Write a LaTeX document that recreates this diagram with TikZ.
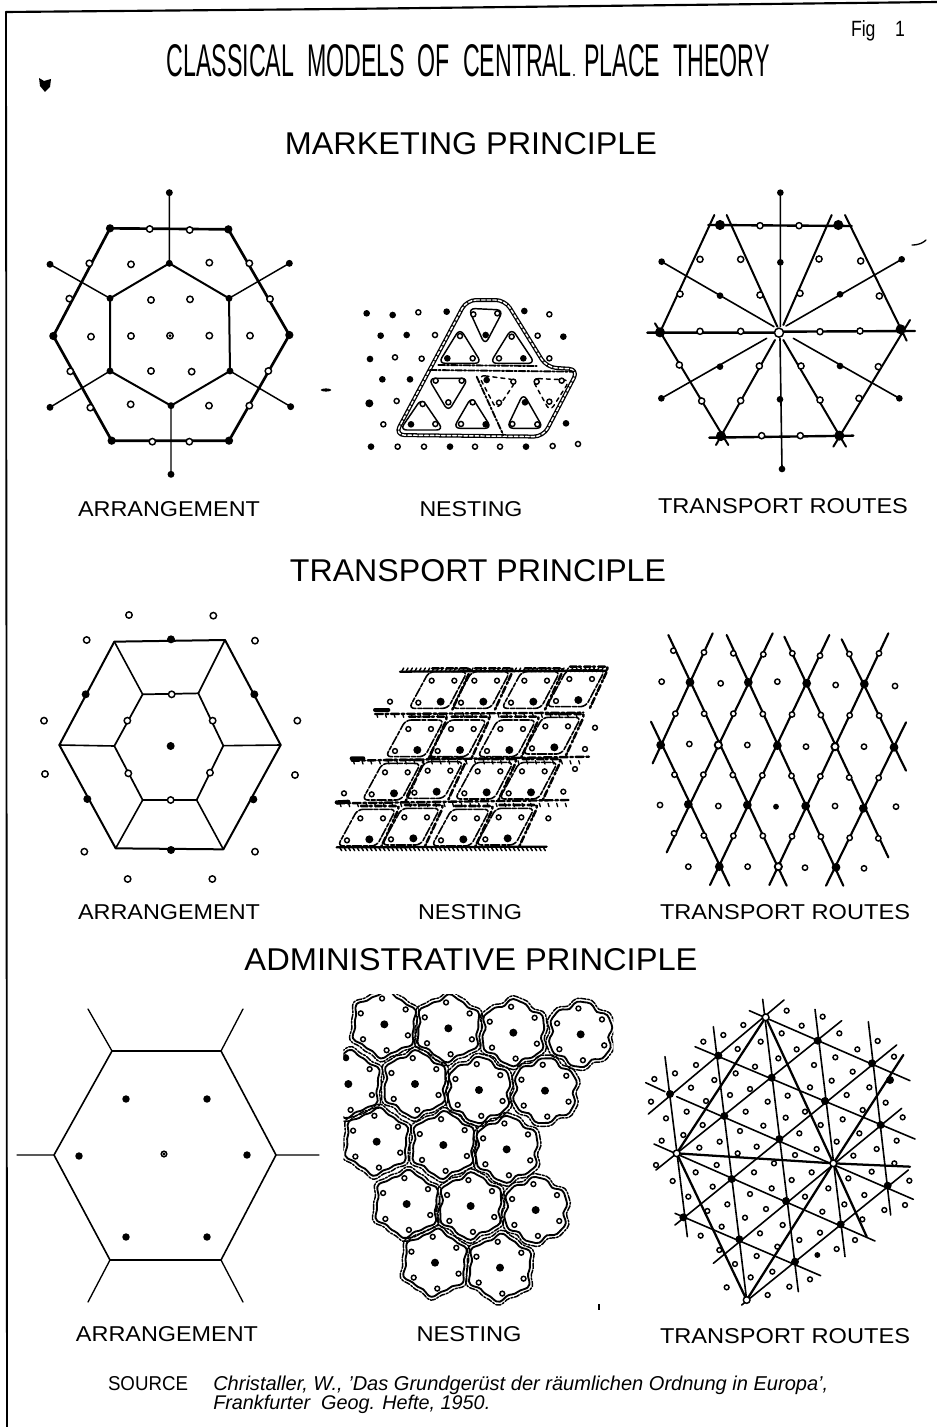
\documentclass[tikz,border=0pt]{standalone}
\usepackage{fontspec}
\usepackage{graphicx}
\setmainfont{Liberation Sans}
\usetikzlibrary{calc}
\newlength\pxu \setlength\pxu{0.75pt}
\newcommand\bdots[2][2.6pt]{\foreach \x/\y in {#2}{\fill (\x,\y) circle (#1);}}
\newcommand\odots[2][2.4pt]{\foreach \x/\y in {#2}{\draw[line width=1.1pt,fill=white] (\x,\y) circle (#1);}}
\newcommand\lab[6]{\node[inner sep=0pt] (#1) at (#2,#3) {\resizebox{#4\pxu}{#5\pxu}{#6}};}
\newcommand\rail[1]{\draw[railb] #1; \draw[railw] #1;}
\tikzset{
  railb/.style={line width=3pt,rounded corners=7pt,line join=round},
  railw/.style={white,line width=1.1pt,rounded corners=7pt,dash pattern=on 2.6pt off 1.6pt},
  tri/.style={line width=1.1pt,rounded corners=5pt},
  cellin/.style={line width=1.2pt,rounded corners=4pt,dash pattern=on 7pt off 1.2pt on 3pt off 1.5pt},
  cellout/.style={line width=1.9pt,rounded corners=3pt,dash pattern=on 5pt off 1.6pt on 1.5pt off 2.5pt},
  zoomunits/.style={x=0.25pt,y=-0.25pt},
}
\begin{document}
\begin{tikzpicture}[x=0.75pt,y=-0.75pt,line cap=round]
\useasboundingbox (0,0) rectangle (937,1427);
\draw[line width=1.4pt] (6,12) -- (7,1427);
\draw[line width=1.6pt] (6,12) -- (340,9) -- (937,2);
% titles
\lab{title}{468}{61}{603}{32}{CLASSICAL\ \ MODELS\ \ OF\ \ CENTRAL\ \ PLACE\ \ THEORY}
\lab{fig}{878}{31}{54}{16}{Fig\ \ \ \ 1}
\lab{h1}{471}{144}{372}{22}{MARKETING PRINCIPLE}
\lab{h2}{478}{571}{376}{22}{TRANSPORT PRINCIPLE}
\lab{h3}{471}{960}{453}{22}{ADMINISTRATIVE PRINCIPLE}
\lab{a1}{169}{509}{182}{15}{ARRANGEMENT}
\lab{n1}{471}{509}{103}{15}{NESTING}
\lab{t1}{783}{506}{250}{15}{TRANSPORT ROUTES}
\lab{a2}{169}{912}{182}{15}{ARRANGEMENT}
\lab{n2}{470}{912}{104}{15}{NESTING}
\lab{t2}{785}{912}{250}{15}{TRANSPORT ROUTES}
\lab{a3}{167}{1334}{182}{15}{ARRANGEMENT}
\lab{n3}{469}{1334}{105}{15}{NESTING}
\lab{t3}{785}{1336}{250}{15}{TRANSPORT ROUTES}
\lab{src}{148}{1384}{80}{14}{SOURCE}
\node[inner sep=0pt,anchor=west] (cit1) at (213,1385) {\resizebox{615\pxu}{!}{\itshape Christaller, W., ’Das Grundgerüst der räumlichen Ordnung in Europa’,}};
\node[inner sep=0pt,anchor=west] (cit2) at (213,1404) {\resizebox{277\pxu}{!}{\itshape Frankfurter\ \ Geog. Hefte, 1950.}};
% specks
\fill (39,78) -- (44,81) -- (51,79) -- (50,87) -- (45,92) -- (40,86) -- cycle;
\fill (326,390) ellipse (4pt and 1.2pt);
\fill (574,75) circle (.9pt);
\draw[line width=1pt] (912,245) .. controls (920,245) and (924,242) .. (926,240);
\fill (598,1304) rectangle (600,1310);

% === Marketing arrangement
\begin{scope}[shift={(0,170)},zoomunits]
\draw[line width=2pt,line join=round] (330,175)--(685,178)--(868,495)--(687,812)--(335,812)--(160,498)--cycle;
\draw[line width=1.5pt,line join=round] (508,280)--(687,385)--(690,603)--(513,707)--(330,603)--(330,385)--cycle;
\draw[line width=1.1pt] (508,68)--(508,280) (687,385)--(868,280) (690,603)--(872,710) (513,707)--(513,913) (330,603)--(150,712) (330,385)--(150,283);
\bdots{508/68,868/280,872/710,513/913,150/712,150/283,508/280,687/385,690/603,513/707,330/603,330/385}
\bdots[3.1pt]{330/175,685/178,868/495,687/812,335/812,160/498}
\odots{449/177,569/180,748/280,810/387,805/603,748/707,568/815,457/815,271/713,211/604,208/386,268/280,
393/283,628/278,453/390,570/388,393/498,628/497,273/500,750/497,453/603,575/605,392/703,627/707,510/497}
\fill (510,497) circle (1.2pt);
\end{scope}

% === Marketing nesting
\begin{scope}[shift={(340,280)},zoomunits]
\rail{(380,60)--(495,60)--(620,262)--(715,268)--(610,470)--(165,465)--cycle}
\draw[line width=1.4pt,dash pattern=on 5pt off 1.5pt on 1.5pt off 1.5pt] (270,270)--(700,275) (410,290)--(490,465);
\draw[line width=1.4pt,dash pattern=on 5pt off 1.5pt on 1.5pt off 1.5pt] (295,255)--(590,258);
\draw[tri] (385,85)--(490,90)--(435,195)--cycle;
\draw[tri] (360,145)--(295,250)--(425,250)--cycle;
\draw[tri] (515,145)--(450,250)--(585,250)--cycle;
\draw[tri] (265,295)--(385,295)--(325,395)--cycle;
\draw[tri] (245,355)--(180,450)--(310,450)--cycle;
\draw[tri] (395,350)--(340,445)--(455,445)--cycle;
\draw[tri,dashed] (415,285)--(530,300)--(470,390)--cycle;
\draw[tri,dashed] (575,295)--(690,300)--(630,395)--cycle;
\draw[tri] (550,340)--(500,445)--(610,445)--cycle;
\bdots[2.5pt]{80/100,158/105,320/95,553/93,122/167,200/165,670/170,90/237,127/298,210/298,678/430,93/500,330/500,558/500,
322/235,550/235,437/165,213/433,437/433,440/300,555/367}
\bdots[3pt]{88/370}
\odots[1.9pt]{235/97,628/103,285/165,593/167,165/232,245/236,628/235,170/363,130/433,173/500,252/500,405/500,480/500,638/498,714/492,
400/103,472/100,360/168,398/235,515/170,477/235,287/302,365/302,325/367,248/372,286/432,398/367,363/432,520/305,477/368,590/305,665/302,628/365,517/432,592/433}
\end{scope}

% === Marketing routes
\begin{scope}[shift={(620,170)},zoomunits]
\draw[line width=1.8pt] (265,165)--(695,168) (82,488)--(470,488) (490,485)--(885,483) (268,803)--(700,797);
\draw[line width=1.5pt] (283,135)--(120,487)  (320,135)--(472,470) (635,135)--(490,465) (675,135)--(860,512)
 (105,460)--(325,825) (870,450)--(640,830) (288,825)--(465,510) (490,510)--(678,830);
\draw[line width=1.2pt] (481,68)--(481,470) (480,505)--(486,897)
 (125,275)--(462,470) (845,268)--(498,468) (124,685)--(440,505) (838,685)--(520,505);
\bdots[2.5pt]{481/68,845/268,838/685,486/897,124/685,125/275,481/277,660/373,660/588,480/688,300/590,300/377}
\bdots[3.8pt]{300/165,655/165,842/478,658/797,303/798,120/487}
\odots[2.3pt]{420/167,537/167,722/273,778/378,775/590,717/685,541/797,425/797,245/693,178/585,180/372,240/268,420/375,362/268,540/370,597/267,600/485,720/483,543/588,600/690,418/588,362/692,362/484,240/484}
\odots[3.4pt]{477/488}
\end{scope}

% === Transport arrangement
\begin{scope}[shift={(20,600)},zoomunits]
\draw[line width=1.5pt,line join=round] (283,125)--(615,120)--(782,435)--(610,748)--(287,745)--(118,435)--cycle;
\draw[line width=1.3pt,line join=round] (368,283)--(535,280)--(610,437)--(530,600)--(368,600)--(283,438)--cycle;
\draw[line width=1.2pt] (283,125)--(368,283) (615,120)--(535,280) (782,435)--(610,437) (610,748)--(530,600) (287,745)--(368,600) (118,435)--(283,438);
\bdots[3pt]{453/118,703/283,700/598,453/750,202/597,197/283,452/438}
\odots{455/283,578/362,570/518,452/600,325/520,322/362,327/45,580/47,705/122,832/362,825/525,705/755,577/837,323/837,193/755,75/522,72/362,200/120}
\end{scope}

% === Transport nesting
\begin{scope}[shift={(320,640)},zoomunits]
\foreach \bx/\by in {362/185,490/185,640/185,775/180,292/330,420/330,568/330,703/322,222/460,350/455,500/457,633/457,148/598,280/595,430/598,563/595}{
  \draw[cellin] (\bx-35,\by-90)--(\bx+80,\by-90)--(\bx+22,\by+20)--(\bx-95,\by+20)--cycle;
  \draw[cellout] (\bx-25,\by-100)--(\bx+92,\by-100)--(\bx+33,\by+28);
  \fill (\bx,\by) circle (3pt);
  \draw[line width=1.1pt,fill=white] (\bx-27,\by-63) circle (1.8pt);
  \draw[line width=1.1pt,fill=white] (\bx+41,\by-63) circle (1.8pt);
  \draw[line width=1.1pt,fill=white] (\bx-67,\by+3) circle (1.8pt);
}
\draw[line width=1.8pt,dash pattern=on 6pt off 2pt on 2pt off 2pt] (165,222)--(790,218) (95,362)--(810,350) (50,490)--(745,480);
\foreach \t in {170,196,...,790}{\draw[line width=1pt] (\t,222)--(\t+3,232);}
\foreach \t in {100,126,...,800}{\draw[line width=1pt] (\t,362)--(\t+3,372);}
\foreach \t in {60,86,...,740}{\draw[line width=1pt] (\t,490)--(\t+3,500);}
\foreach \t in {245,258,...,860}{\draw[line width=1.1pt] (\t,95)--(\t+6,84);}
\foreach \t in {60,73,...,680}{\draw[line width=1.1pt] (\t,624)--(\t+5,632);}
\draw[line width=1.7pt] (240,95)--(860,92) (50,622)--(680,620);
\draw[line width=3pt] (50,487)--(85,485) (95,355)--(130,355) (165,210)--(205,210);
\odots[1.8pt]{210/185,72/460,825/263,795/327,765/387,730/455,685/535}
\end{scope}

% === Transport routes
\begin{scope}[shift={(640,620)},zoomunits]
\draw[line width=1.6pt] (85,45)--(440,797) (260,45)--(610,797) (433,50)--(745,712) (605,58)--(798,452) (33,305)--(268,797)
 (218,40)--(38,430) (398,40)--(80,697) (568,45)--(210,795) (745,40)--(388,795) (798,307)--(558,797);
\coordinate (A1) at (150,187); \coordinate (A2) at (325,187); \coordinate (A3) at (500,190); \coordinate (A4) at (673,192);
\coordinate (B1) at (62,375); \coordinate (B2) at (235,375); \coordinate (B3) at (412,377); \coordinate (B4) at (585,380); \coordinate (B5) at (762,382);
\coordinate (C1) at (145,553); \coordinate (C2) at (322,555); \coordinate (C3) at (497,558); \coordinate (C4) at (670,565);
\coordinate (D1) at (238,740); \coordinate (D2) at (415,740); \coordinate (D3) at (588,742);
\foreach \a/\b in {A1/B1,A1/B2,A2/B2,A2/B3,A3/B3,A3/B4,A4/B4,A4/B5,B1/C1,B2/C1,B2/C2,B3/C2,B3/C3,B4/C3,B4/C4,B5/C4,C1/D1,C2/D1,C2/D2,C3/D2,C3/D3,C4/D3}{
  \draw[line width=1.1pt,fill=white] ($(\a)!.5!(\b)$) circle (2pt);
}
\odots[2pt]{100/92,192/97,280/100,370/103,457/100,540/107,628/102,717/100,102/640,715/655,
65/185,242/190,412/185,587/195,765/198,148/372,322/375,498/380,672/380,60/555,235/558,585/558,768/560,145/740,323/740,495/743,672/745}
\bdots[2.2pt]{408/560}
\foreach \v in {A1,A2,A3,A4,B1,B3,B5,C1,C2,C3,C4,D1,D3}{\fill (\v) circle (3.3pt);}
\foreach \v in {B2,B4,D2}{\draw[line width=1.4pt,fill=white] (\v) circle (2.7pt);}
\end{scope}

% === Administrative arrangement
\draw[line width=1.2pt,line join=round] (112,1051)--(221,1051)--(276,1155)--(221,1260)--(110,1260)--(54,1155)--cycle;
\draw[line width=1pt] (112,1051)--(88,1009) (221,1051)--(243,1009) (276,1155)--(319,1155) (221,1260)--(243,1302) (110,1260)--(88,1302) (54,1155)--(17,1155);
\bdots[2.8pt]{126/1099,207/1099,247/1155,207/1237,126/1237,79/1156}
\odots[2.1pt]{164/1154}
\fill (164,1154) circle (1.2pt);

% === Administrative nesting
\begin{scope}[shift={(330,990)},zoomunits]
\clip (40,12) rectangle (850,960);
\foreach \cx/\cy/\ph in {163/103/20,355/115/80,550/128/140,752/133/200,55/282/50,255/282/110,447/300/170,645/302/230,140/455/30,340/465/90,530/478/150,230/642/60,422/648/120,617/660/180,315/818/10,510/833/70}{
  \begin{scope}[shift={(\cx,\cy)}]
  \draw[line width=1.4pt,smooth cycle] plot[domain=0:354,samples=60,variable=\t] ({\t}:{93+7*cos(6*(\t-35))+3*sin(12*\t+\ph)});
  \draw[line width=1.1pt,smooth cycle,dash pattern=on 4pt off 1.2pt on 1.5pt off 1.2pt] plot[domain=0:354,samples=60,variable=\t] ({\t}:{103+7*cos(6*(\t-35))+3*sin(12*\t+\ph)});
  \fill (0,0) circle (3pt);
  \foreach \k in {25,85,145,205,265,325}{\draw[line width=1.1pt,fill=white] (\k:78) circle (1.8pt);}
  \end{scope}
}
\bdots[2.4pt]{47/202}
\end{scope}

% === Administrative routes
\begin{scope}[shift={(630,990)},zoomunits]
\draw[line width=1.2pt] (398,28)--(505,905) (555,58)--(645,800) (715,95)--(782,675) (250,110)--(350,930) (105,200)--(172,740)
 (140,320)--(850,628) (47,278)--(105,305) (195,170)--(855,447) (358,62)--(840,272) (72,462)--(735,753) (135,670)--(572,857)
 (55,372)--(462,30) (78,540)--(635,92) (135,705)--(800,165) (250,820)--(815,355) (335,945)--(835,540);
\draw[line width=1.7pt] (407,82)--(140,490) (407,82)--(610,520) (140,490)--(610,520) (140,490)--(350,930) (610,520)--(350,930) (610,520)--(820,195) (610,520)--(710,740) (610,520)--(840,530);
\odots[1.8pt]{470/62,578/80,515/107,628/130,340/105,280/135,682/178,743/153,792/200,220/155,392/155,455/130,323/177,500/178,198/225,445/205,616/202,375/230,552/225,135/250,317/250,253/270,668/245,73/267,605/272,183/293,718/292,300/315,360/297,540/292,650/315,63/335,228/333,473/317,413/335,767/338,108/385,170/365,347/365,525/365,818/382,698/360,218/405,400/407,467/383,638/388,160/435,330/423,572/405,508/430,688/430,800/452,95/452,269/455,620/455,740/477,208/473,380/470,560/477,495/495,670/497,323/490,793/520,78/525,260/525,432/520,725/545,197/547,372/547,545/547,655/565,128/573,485/570,838/572,248/590,425/595,595/595,703/615,175/620,360/612,525/620,643/643,825/645,292/643,408/657,577/665,763/660,232/663,345/683,697/688,275/710,458/705,212/737,390/730,570/728,508/750,675/750,442/770,620/777,268/780,380/798,315/822,427/845,540/868,362/862,290/892,478/890,413/915}
\bdots[2.2pt]{562/795}
\bdots[3pt]{563/152,726/220,265/197,425/263,585/333,752/405,120/312,283/378,448/447,305/567,468/633,632/703,773/587,160/682,328/748,495/815,780/270}
\odots[2.5pt]{407/82,140/490,610/520,350/930}
\end{scope}
\end{tikzpicture}
\end{document}
